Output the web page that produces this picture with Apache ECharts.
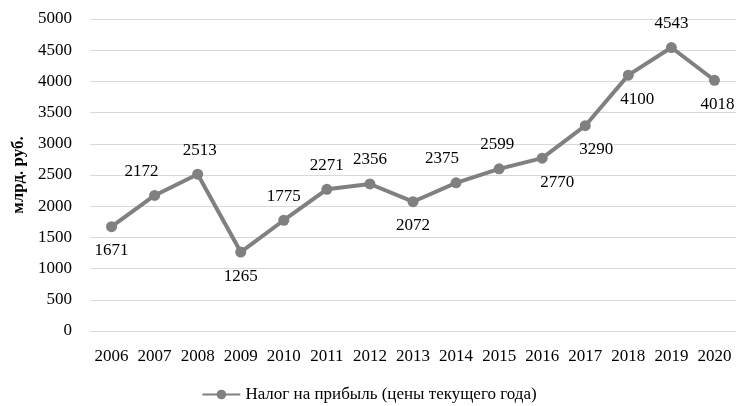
<!DOCTYPE html>
<html><head><meta charset="utf-8">
<script src="https://cdn.jsdelivr.net/npm/echarts@6/dist/echarts.min.js"></script>
<style>html,body{margin:0;padding:0;background:#fff}#c{width:738px;height:406px}</style>
</head><body><div id="c"></div>
<script>
const years = ['2006','2007','2008','2009','2010','2011','2012','2013','2014','2015','2016','2017','2018','2019','2020'];
const values = [1671,2172,2513,1265,1775,2271,2356,2072,2375,2599,2770,3290,4100,4543,4018];
const labelSide = ['bottom','top','top','bottom','top','top','top','bottom','top','top','bottom','bottom','bottom','top','bottom'];
const labelShift = [0,-13,2,0,0,0,0,0,-14,-2,15,11,9,0,3];
const seriesName = 'Налог на прибыль (цены текущего года)';
const yName = 'млрд. руб.';
const font = '"Liberation Serif", "DejaVu Serif", serif';
const chart = echarts.init(document.getElementById('c'));
chart.setOption({
  animation:false,
  textStyle:{fontFamily:font},
  grid:{left:90,right:2,top:19,bottom:75},
  legend:{top:386,left:'center',itemWidth:38,itemHeight:12,itemGap:10,padding:0,
    textStyle:{fontFamily:font,fontSize:17,color:'#000'},data:[seriesName]},
  xAxis:{type:'category',data:years,boundaryGap:true,
    axisLine:{show:true,lineStyle:{color:'#d9d9d9',width:1}},axisTick:{show:false},
    axisLabel:{fontFamily:font,fontSize:17,color:'#000',margin:17,interval:0}},
  yAxis:{type:'value',min:0,max:5000,interval:500,name:yName,nameLocation:'middle',nameGap:61,
    nameTextStyle:{fontFamily:font,fontSize:17,fontWeight:'bold',color:'#000'},
    axisLine:{show:false},axisTick:{show:false},
    axisLabel:{fontFamily:font,fontSize:17,color:'#000',margin:18,formatter:v=>String(v)},
    splitLine:{lineStyle:{color:'#d9d9d9',width:1}}},
  series:[{name:seriesName,type:'line',
    data:values.map((v,i)=>({value:v,label:{position:labelSide[i],offset:[labelShift[i],0]}})),
    symbol:'circle',symbolSize:11,
    lineStyle:{color:'#808080',width:4},itemStyle:{color:'#808080'},
    label:{show:true,fontFamily:font,fontSize:17,color:'#000',distance:10}}]
});
</script></body></html>
